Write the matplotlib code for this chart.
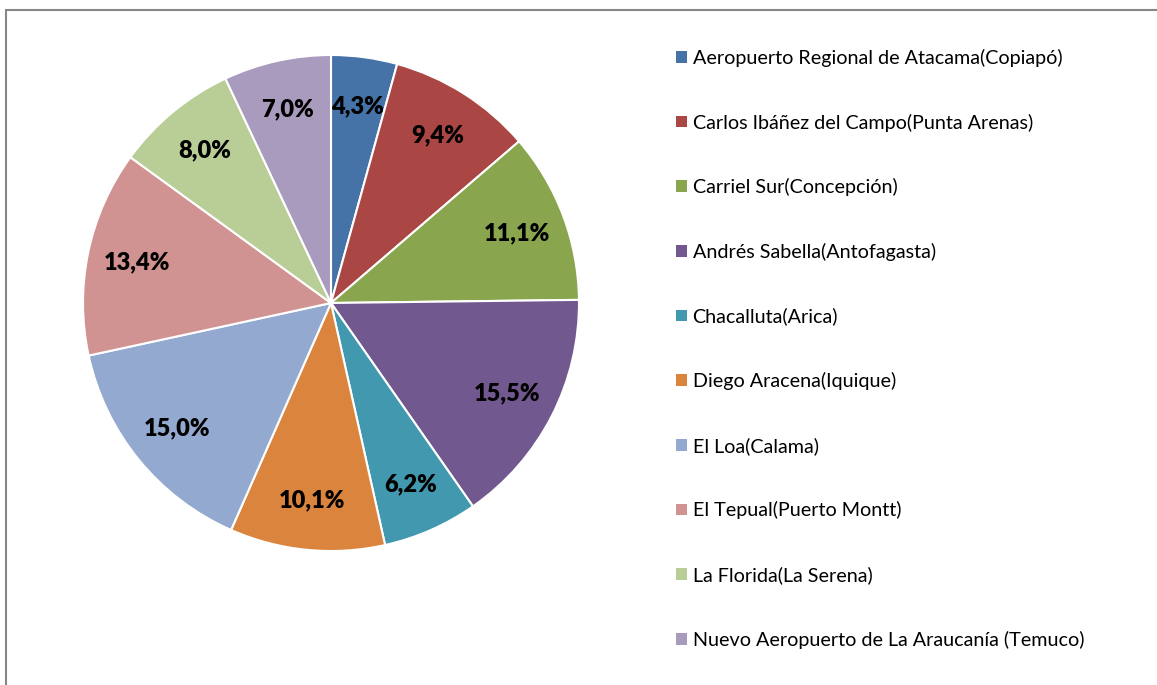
import matplotlib.pyplot as plt
from matplotlib.patches import Rectangle

labels = ["Aeropuerto Regional de Atacama(Copiapó)",
          "Carlos Ibáñez del Campo(Punta Arenas)",
          "Carriel Sur(Concepción)",
          "Andrés Sabella(Antofagasta)",
          "Chacalluta(Arica)",
          "Diego Aracena(Iquique)",
          "El Loa(Calama)",
          "El Tepual(Puerto Montt)",
          "La Florida(La Serena)",
          "Nuevo Aeropuerto de La Araucanía (Temuco)"]
values = [4.3, 9.4, 11.1, 15.5, 6.2, 10.1, 15.0, 13.4, 8.0, 7.0]
colors = ["#4572A7", "#AA4643", "#89A54E", "#71588F", "#4198AF",
          "#DB843D", "#93A9CF", "#D19392", "#B9CD96", "#A99BBD"]

plt.rcParams['font.family'] = ['Lato', 'DejaVu Sans']

W, H = 1157, 685
fig = plt.figure(figsize=(W / 100, H / 100), dpi=100)

# grey frame, only left and top edges visible
fig.patches.append(Rectangle((6 / W, -0.05), 1.2, (H - 10) / H + 0.05,
                             transform=fig.transFigure, fill=False,
                             edgecolor="#878787", linewidth=1.5))

cx, cy, r = 331, 303, 248
ax = fig.add_axes([(cx - r) / W, (H - cy - r) / H, 2 * r / W, 2 * r / H])
wedges, texts = ax.pie(values, colors=colors, startangle=90, counterclock=False,
                       radius=1, labels=[f"{v:.1f}%".replace(".", ",") for v in values],
                       labeldistance=0.8,
                       wedgeprops=dict(edgecolor="white", linewidth=1.5))
for t in texts:
    t.set_fontsize(17)
    t.set_fontweight("heavy")
    t.set_ha("center")
    t.set_va("center")
ax.set_xlim(-1, 1)
ax.set_ylim(-1, 1)
ax.set_aspect("equal")

leg = fig.legend(wedges, labels, loc="upper left",
                 bbox_to_anchor=(658 / W, (H - 31) / H),
                 frameon=False, fontsize=14.2, handlelength=0.55,
                 handleheight=0.55, handletextpad=0.3, labelspacing=2.365)
for h in leg.legend_handles:
    h.set_edgecolor("none")

fig.savefig("out.png", dpi=100)
